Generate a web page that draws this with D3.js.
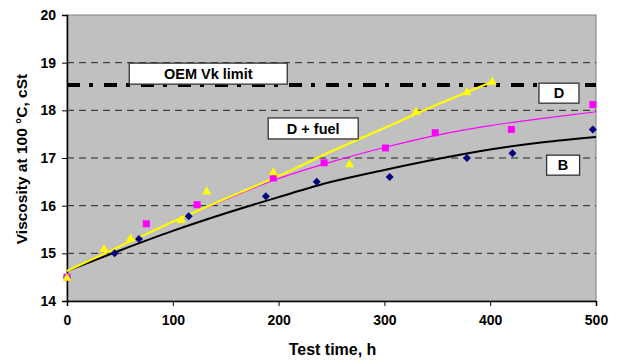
<!DOCTYPE html>
<html>
<head>
<meta charset="utf-8">
<script src="https://cdn.jsdelivr.net/npm/d3@7"></script>
<style>
  html, body { margin: 0; padding: 0; background: #fff; }
  svg { display: block; font-family: "Liberation Sans", Arial, sans-serif; }
</style>
</head>
<body>
<div id="chart"></div>
<script>
// measured points (test time h, viscosity cSt)
const hoursB = [0, 45, 68, 115, 188, 236, 305, 378, 421, 497];
const viscB = [14.5, 15.0, 15.3, 15.78, 16.2, 16.5, 16.6, 17.0, 17.1, 17.6];

const hoursFuel = [0, 75, 123, 195, 243, 301, 348, 420, 497];
const viscFuel = [14.5, 15.62, 16.02, 16.58, 16.9, 17.21, 17.53, 17.6, 18.12];

const hoursD = [0, 35, 60, 108, 132, 195, 267, 330, 378, 402];
const viscD = [14.5, 15.1, 15.32, 15.71, 16.31, 16.71, 16.88, 17.98, 18.39, 18.61];

// trend lines
const trendHoursB = [0, 50, 100, 150, 200, 250, 300, 350, 400, 450, 500];
const trendB = [14.63, 15.06, 15.47, 15.84, 16.18, 16.5, 16.75, 16.98, 17.18, 17.33, 17.44];
const trendHoursFuel = [0, 50, 100, 150, 200, 250, 300, 350, 400, 450, 500];
const trendFuel = [14.63, 15.16, 15.66, 16.13, 16.57, 16.92, 17.22, 17.48, 17.68, 17.83, 17.97];
const trendHoursD = [0, 50, 100, 150, 200, 250, 300, 350, 402];
const trendD = [14.63, 15.15, 15.66, 16.15, 16.62, 17.14, 17.63, 18.12, 18.6];

const oemLimit = 18.53;

const xTicks = [0, 100, 200, 300, 400, 500];
const yTicks = [14, 15, 16, 17, 18, 19, 20];

const width = 618, height = 360;
const margin = { top: 15, right: 22, bottom: 59, left: 67 };

const svg = d3.select('#chart').append('svg')
  .attr('width', width)
  .attr('height', height);

const x = d3.scaleLinear().domain([0, 500]).range([margin.left, width - margin.right]);
const y = d3.scaleLinear().domain([14, 20]).range([height - margin.bottom, margin.top]);

// plot area
svg.append('rect')
  .attr('x', x(0)).attr('y', y(20))
  .attr('width', x(500) - x(0)).attr('height', y(14) - y(20))
  .attr('fill', '#c0c0c0')
  .attr('stroke', '#808080')
  .attr('stroke-width', 1);

// dashed gridlines
svg.append('g')
  .selectAll('line')
  .data(yTicks.filter(d => d > 14 && d < 20))
  .join('line')
  .attr('x1', x(0)).attr('x2', x(500))
  .attr('y1', d => y(d)).attr('y2', d => y(d))
  .attr('stroke', '#222')
  .attr('stroke-width', 1)
  .attr('stroke-dasharray', '7,5');

// axes
const yAxis = svg.append('g')
  .attr('transform', `translate(${x(0)},0)`)
  .call(d3.axisLeft(y).tickValues(yTicks).tickFormat(d3.format('d')).tickSizeOuter(0).tickSize(5).tickPadding(6));
const xAxis = svg.append('g')
  .attr('transform', `translate(0,${y(14)})`)
  .call(d3.axisBottom(x).tickValues(xTicks).tickFormat(d3.format('d')).tickSizeOuter(0).tickSize(5).tickPadding(9));

[xAxis, yAxis].forEach(g => {
  g.select('.domain').attr('stroke', '#000').attr('stroke-width', 1.5);
  g.selectAll('.tick line').attr('stroke', '#000');
  g.selectAll('.tick text')
    .attr('fill', '#000')
    .style('font-size', '14px')
    .style('font-weight', 'bold')
    .style('font-family', '"Liberation Sans", Arial, sans-serif');
});

// OEM limit line
svg.append('line')
  .attr('x1', x(0)).attr('x2', x(500))
  .attr('y1', y(oemLimit)).attr('y2', y(oemLimit))
  .attr('stroke', '#000')
  .attr('stroke-width', 4)
  .attr('stroke-dasharray', '13,9,4,11');

// trend lines
const line = d3.line().curve(d3.curveMonotoneX);
const trends = [
  { hours: trendHoursB, vals: trendB, color: '#000', w: 2 },
  { hours: trendHoursFuel, vals: trendFuel, color: '#ff00ff', w: 1.2 },
  { hours: trendHoursD, vals: trendD, color: '#ffff00', w: 2.2 }
];
trends.forEach(t => {
  svg.append('path')
    .attr('d', line(t.hours.map((h, i) => [x(h), y(t.vals[i])])))
    .attr('fill', 'none')
    .attr('stroke', t.color)
    .attr('stroke-width', t.w);
});

// markers
svg.append('g').selectAll('path')
  .data(hoursB.map((h, i) => [h, viscB[i]]))
  .join('path')
  .attr('d', 'M0,-4L4,0L0,4L-4,0Z')
  .attr('transform', d => `translate(${x(d[0])},${y(d[1])})`)
  .attr('fill', '#000080');

svg.append('g').selectAll('rect')
  .data(hoursFuel.map((h, i) => [h, viscFuel[i]]))
  .join('rect')
  .attr('x', d => x(d[0]) - 3.5).attr('y', d => y(d[1]) - 3.5)
  .attr('width', 7).attr('height', 7)
  .attr('fill', '#ff00ff');

svg.append('g').selectAll('path')
  .data(hoursD.map((h, i) => [h, viscD[i]]))
  .join('path')
  .attr('d', 'M0,-4.5L4.5,3.5L-4.5,3.5Z')
  .attr('transform', d => `translate(${x(d[0])},${y(d[1])})`)
  .attr('fill', '#ffff00');

// annotation boxes
const labels = [
  { text: 'OEM Vk limit', cx: 133.5, cy: 18.77, w: 158, h: 21 },
  { text: 'D + fuel', cx: 232.7, cy: 17.62, w: 90, h: 21 },
  { text: 'D', cx: 465, cy: 18.36, w: 40, h: 20 },
  { text: 'B', cx: 468.9, cy: 16.85, w: 33, h: 20 }
];
const lg = svg.append('g').selectAll('g').data(labels).join('g')
  .attr('transform', d => `translate(${x(d.cx)},${y(d.cy)})`);
lg.append('rect')
  .attr('x', d => -d.w / 2).attr('y', d => -d.h / 2)
  .attr('width', d => d.w).attr('height', d => d.h)
  .attr('fill', '#fff')
  .attr('stroke', '#333')
  .attr('stroke-width', 1.3);
lg.append('text')
  .attr('text-anchor', 'middle')
  .attr('dy', '0.36em')
  .style('font-size', '14.5px')
  .style('font-weight', 'bold')
  .text(d => d.text);

// axis titles
svg.append('text')
  .attr('x', (x(0) + x(500)) / 2 + 1)
  .attr('y', 355)
  .attr('text-anchor', 'middle')
  .style('font-size', '16px')
  .style('font-weight', 'bold')
  .text('Test time, h');

svg.append('text')
  .attr('transform', `translate(27,${(y(14) + y(20)) / 2 + 1}) rotate(-90)`)
  .attr('text-anchor', 'middle')
  .style('font-size', '15.5px')
  .style('font-weight', 'bold')
  .text('Viscosity at 100 °C, cSt');
</script>
</body>
</html>
